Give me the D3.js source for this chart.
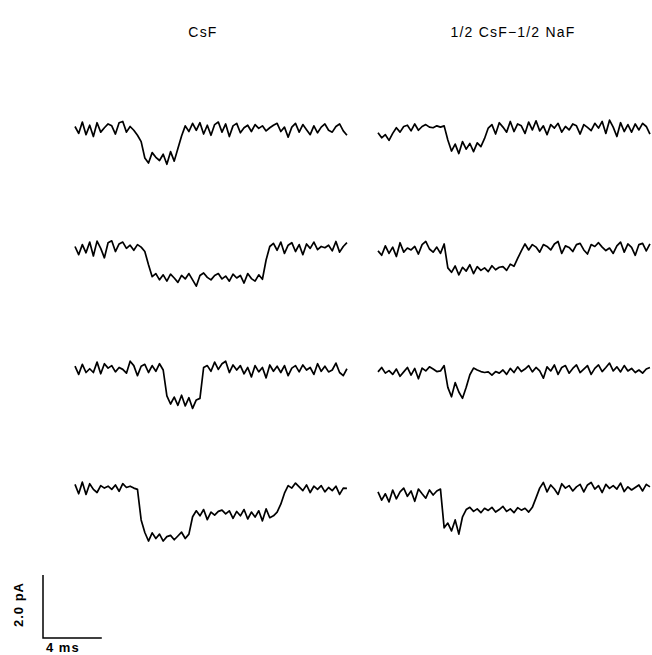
<!doctype html>
<html>
<head>
<meta charset="utf-8">
<style>
  body { margin: 0; background: #fff; }
  svg text { font-family: "Liberation Sans", Arial, sans-serif; fill: #000; }
</style>
</head>
<body>
<script src="https://d3js.org/d3.v7.min.js"></script>
<svg id="chart" width="652" height="655"></svg>
<script>
// column titles
const titles = ['CsF', '1/2 CsF\u22121/2 NaF'];

// sample interval (ms) of the digitised records
const dt = 0.25;

// current (pA) per record, rows top to bottom
const csF1 = [0.08,-0.14,0.22,-0.18,0.12,-0.24,0.20,-0.10,0.04,0.16,0.10,-0.16,0.20,0.24,-0.10,0.08,-0.04,-0.20,
  -0.40,
  -0.92,-1.08,-0.75,-0.90,-1.00,-0.80,-1.12,-0.72,-1.02,-0.62,-0.22,
  0.10,-0.08,0.18,-0.04,0.20,-0.16,0.12,-0.20,0.14,0.22,-0.10,0.16,-0.24,0.10,0.18,-0.12,0.04,0.12,-0.08,0.14,
  0.02,0.10,-0.06,0.04,0.12,0.18,-0.08,0.06,-0.26,0.06,0.18,-0.10,0.14,-0.02,-0.18,0.10,-0.12,0.06,0.16,-0.04,
  -0.10,0.08,0.16,-0.06,-0.20];
const csF2 = [0.08,-0.18,0.14,-0.12,0.22,-0.22,0.25,0.02,-0.28,0.20,0.26,-0.08,0.16,0.22,0.02,0.12,-0.04,0.14,0.06,-0.08,
  -0.50,
  -0.88,-0.78,-0.98,-0.82,-1.02,-0.80,-0.92,-1.06,-0.84,-0.95,-0.78,-0.98,-1.18,-0.84,-0.76,-0.90,-0.98,-0.84,-0.78,-0.95,
  -0.86,-1.02,-0.80,-0.92,-0.84,-1.08,-0.78,-0.94,-1.02,-0.82,-0.96,
  -0.35,
  0.08,0.18,-0.04,0.22,-0.14,0.12,0.20,-0.08,0.14,-0.18,0.16,0.02,0.22,-0.02,0.08,0.04,0.12,-0.06,0.24,-0.10,0.08,0.20];
const csF3 = [0.12,-0.14,0.18,-0.08,0.04,-0.08,0.25,-0.12,0.20,0.06,0.14,-0.06,0.08,0.02,-0.10,0.28,0.14,-0.18,0.12,0.18,
  -0.08,0.14,-0.04,0.20,0.00,
  -0.82,-1.08,-0.86,-1.12,-0.80,-1.14,-0.88,-1.22,-0.95,-0.90,
  0.08,0.14,-0.04,0.25,0.02,0.20,0.28,-0.08,0.16,0.00,0.14,-0.12,0.08,-0.22,0.14,-0.06,0.08,-0.25,0.16,-0.04,
  0.12,-0.08,0.14,-0.18,0.06,0.14,-0.06,0.16,0.00,0.08,-0.14,0.20,-0.04,0.12,-0.06,0.00,0.22,-0.08,-0.18,0.04];
const csF4 = [0.18,-0.12,0.25,-0.14,0.20,0.02,-0.08,0.14,0.06,0.12,0.02,0.16,-0.04,0.20,0.08,0.12,0.06,0.02,
  -0.95,-1.35,-1.62,-1.36,-1.54,-1.40,-1.62,-1.48,-1.44,-1.58,-1.46,-1.34,-1.54,-1.40,
  -0.85,-0.66,-0.82,-0.62,-0.94,-0.70,-0.80,-0.68,-0.64,-0.76,-0.66,-0.90,-0.68,-0.82,-0.62,-0.92,-0.70,-0.86,-0.66,-0.98,
  -0.60,-0.88,-0.82,-0.70,-0.45,
  -0.10,0.14,0.06,0.22,0.10,-0.02,0.16,-0.08,0.12,0.02,0.14,-0.06,0.08,-0.02,0.12,-0.14,0.06,0.05];

const mix1 = [-0.12,-0.28,-0.18,-0.36,-0.14,0.04,-0.10,0.08,0.12,-0.06,0.16,-0.04,0.08,0.14,0.06,0.04,0.10,0.06,0.10,
  -0.35,
  -0.70,-0.48,-0.78,-0.40,-0.64,-0.46,-0.72,-0.44,-0.56,
  -0.30,
  0.03,0.14,-0.16,0.20,0.06,-0.10,0.24,-0.08,0.16,0.10,-0.14,0.22,-0.03,0.26,-0.06,0.10,-0.18,0.14,0.03,0.18,
  -0.10,0.08,-0.03,0.16,0.10,-0.16,0.14,0.05,-0.05,0.18,0.03,0.24,-0.14,0.28,0.06,-0.24,0.20,-0.08,0.14,-0.10,
  0.16,-0.03,0.18,0.08,-0.16];
const mix2 = [-0.06,-0.20,0.10,-0.14,0.06,-0.24,0.20,-0.10,0.03,-0.03,0.08,-0.16,0.14,0.24,0.00,-0.10,0.06,-0.14,0.16,
  -0.60,
  -0.74,-0.54,-0.82,-0.58,-0.70,-0.50,-0.78,-0.56,-0.68,-0.60,-0.72,-0.53,-0.66,-0.58,-0.56,-0.68,-0.48,-0.55,
  -0.30,
  -0.06,0.16,-0.03,0.14,0.06,-0.10,0.14,0.08,-0.03,0.16,0.24,-0.14,0.10,0.05,-0.08,0.14,0.18,-0.03,-0.16,0.14,
  0.08,0.20,0.06,-0.05,0.03,-0.14,0.10,0.22,-0.10,0.16,0.05,-0.20,0.14,0.18,-0.06,0.16];
const mix3 = [-0.06,0.08,-0.10,-0.02,-0.14,0.03,-0.20,-0.06,0.08,-0.16,0.05,-0.28,0.06,-0.03,0.10,0.03,-0.05,-0.03,0.14,
  -0.55,-0.85,-0.40,-0.70,-0.90,-0.55,
  -0.15,
  0.06,0.00,-0.05,-0.08,-0.06,-0.16,-0.05,-0.10,0.00,-0.14,0.05,-0.08,0.10,-0.05,0.03,0.14,-0.06,0.08,-0.03,-0.26,
  0.10,-0.03,0.16,-0.14,0.08,0.14,-0.10,0.05,0.16,-0.08,0.03,0.14,-0.14,0.05,0.16,-0.05,0.08,0.22,-0.03,0.10,
  -0.06,0.14,-0.03,0.05,-0.08,0.00,-0.10,0.03,0.08];
const mix4 = [-0.06,-0.32,-0.12,-0.38,0.00,-0.28,-0.06,0.06,-0.20,-0.03,-0.36,0.03,-0.12,-0.26,0.00,-0.16,-0.03,0.03,
  -1.20,-1.05,-1.30,-0.95,-1.40,
  -0.85,-0.62,-0.55,-0.68,-0.60,-0.72,-0.58,-0.65,-0.55,-0.70,-0.62,-0.52,-0.68,-0.60,-0.72,-0.56,-0.64,-0.58,-0.70,-0.55,
  -0.25,
  0.06,0.24,-0.06,0.16,0.03,-0.14,0.20,0.06,0.14,-0.03,0.10,0.18,-0.06,0.16,0.24,0.03,0.14,-0.08,0.18,0.05,
  0.14,0.03,0.22,-0.05,0.10,0.00,0.08,0.16,-0.03,0.18,0.10];

const columns = [[csF1, csF2, csF3, csF4], [mix1, mix2, mix3, mix4]];

// scale bar values
const barTime = 4;     // ms
const barCurrent = 2;  // pA
const barLabels = ['2.0 pA', '4 ms'];

const svg = d3.select('#chart');

const colLeft = [75, 378];
const traceMs = 18.5;
const pxPerMs = 14.7;
const pxPerPA = 31.5;
const rowBase = [129, 249, 370, 490];

const line = d3.line().curve(d3.curveLinear);

columns.forEach((col, c) => {
  const x = d3.scaleLinear().domain([0, traceMs]).range([colLeft[c], colLeft[c] + traceMs * pxPerMs]);
  col.forEach((trace, r) => {
    const y = d3.scaleLinear().domain([0, -1]).range([rowBase[r], rowBase[r] + pxPerPA]);
    svg.append('path')
      .datum(trace)
      .attr('fill', 'none')
      .attr('stroke', '#000')
      .attr('stroke-width', 1.7)
      .attr('stroke-linejoin', 'round')
      .attr('d', line.x((d, i) => x(i * dt)).y(d => y(d)));
  });
});

svg.selectAll('text.title')
  .data(titles)
  .join('text')
  .attr('class', 'title')
  .attr('x', (d, i) => [203, 513][i])
  .attr('y', 37)
  .attr('text-anchor', 'middle')
  .attr('font-size', 14)
  .attr('letter-spacing', 1.2)
  .text(d => d);

// scale bar
const bx = d3.scaleLinear().domain([0, barTime]).range([43, 43 + barTime * pxPerMs]);
const by = d3.scaleLinear().domain([0, barCurrent]).range([638, 638 - barCurrent * pxPerPA]);
svg.append('path')
  .attr('fill', 'none')
  .attr('stroke', '#000')
  .attr('stroke-width', 1.5)
  .attr('d', `M${bx(0)},${by(barCurrent)}V${by(0)}H${bx(barTime)}`);

svg.append('text')
  .attr('transform', `translate(23,${by(barCurrent / 2) - 2}) rotate(-90)`)
  .attr('text-anchor', 'middle')
  .attr('font-size', 13)
  .attr('font-weight', 'bold')
  .attr('letter-spacing', 1)
  .text(barLabels[0]);

svg.append('text')
  .attr('x', 46)
  .attr('y', 652)
  .attr('font-size', 13)
  .attr('font-weight', 'bold')
  .attr('letter-spacing', 1)
  .text(barLabels[1]);
</script>
</body>
</html>
